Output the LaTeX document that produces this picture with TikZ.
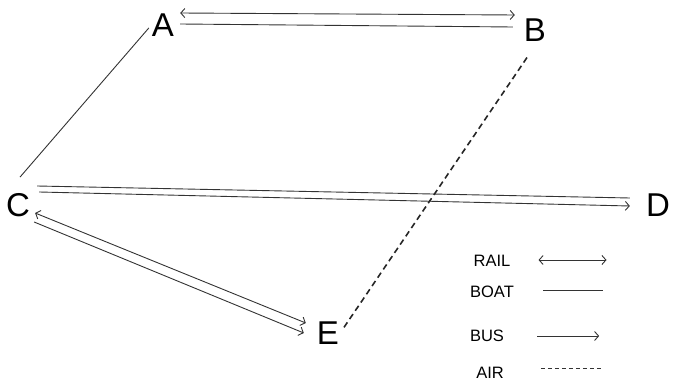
\documentclass[tikz,border=0pt]{standalone}
\usepackage{fontspec}
\setmainfont{Liberation Sans}
\usepackage{tikz}
\usetikzlibrary{arrows.meta}

\begin{document}
\begin{tikzpicture}[x=1pt,y=-1pt,
    >={Straight Barb[length=4pt,width=9pt]},
    city/.style={inner sep=3pt, font=\fontsize{33}{33}\selectfont},
    key/.style={inner sep=0pt, font=\fontsize{16.5}{16.5}\selectfont},
    rail/.style={<->, line width=0.9pt, black!80},
    boat/.style={line width=0.9pt, black!80},
    bus/.style={->, line width=0.9pt, black!80},
    air/.style={dashed, line width=1.6pt, black!85, dash pattern=on 6pt off 4pt}]
      \useasboundingbox (0,0) rectangle (673,385);

      \node[city] (A) at (163,25) {A};
      \node[city] (B) at (535,30) {B};
      \node[city] (C) at (18,205) {C};
      \node[city] (D) at (658,205) {D};
      \node[city] (E) at (328,333) {E};

      % A -- B
      \draw[rail] ([xshift=3pt,yshift=12pt]A.east) -- ([xshift=-6pt,yshift=15pt]B.west);
      \draw[boat] ([xshift=3pt,yshift=1pt]A.east) -- ([xshift=-8pt,yshift=3pt]B.west);
      % A -- C
      \draw[boat] ([yshift=-3pt]A.west) -- ([xshift=2pt,yshift=13pt]C.north);
      % C -- D
      \draw[boat] ([xshift=4pt,yshift=19pt]C.east) -- ([xshift=-13pt,yshift=7pt]D.west);
      \draw[bus] ([xshift=6pt,yshift=13pt]C.east) -- ([xshift=-13pt,yshift=-1pt]D.west);
      % C -- E
      \draw[rail] ([xshift=2pt,yshift=-8pt]C.east) -- ([xshift=-8pt,yshift=10pt]E.west);
      \draw[bus] ([xshift=1pt,yshift=-17pt]C.east) -- ([xshift=-10pt,yshift=0pt]E.west);
      % B -- E
      \draw[air] ([xshift=-8pt,yshift=-13pt]B.south) -- ([yshift=3pt]E.east);

      % key
      \node[key] (lrail) at (492,261) {RAIL};
      \node[key] (lboat) at (492,292) {BOAT};
      \node[key] (lbus) at (487,336) {BUS};
      \node[key] (lair) at (490,373) {AIR};
      \draw[rail] ([xshift=28pt,yshift=1pt]lrail.east) -- ++(68,0);
      \draw[boat] ([xshift=29pt,yshift=2pt]lboat.east) -- ++(60,0);
      \draw[bus] ([xshift=33pt]lbus.east) -- ++(62,0);
      \draw[boat, dashed, dash pattern=on 4pt off 3pt] ([xshift=37pt,yshift=5pt]lair.east) -- ++(62,0);
\end{tikzpicture}
\end{document}
